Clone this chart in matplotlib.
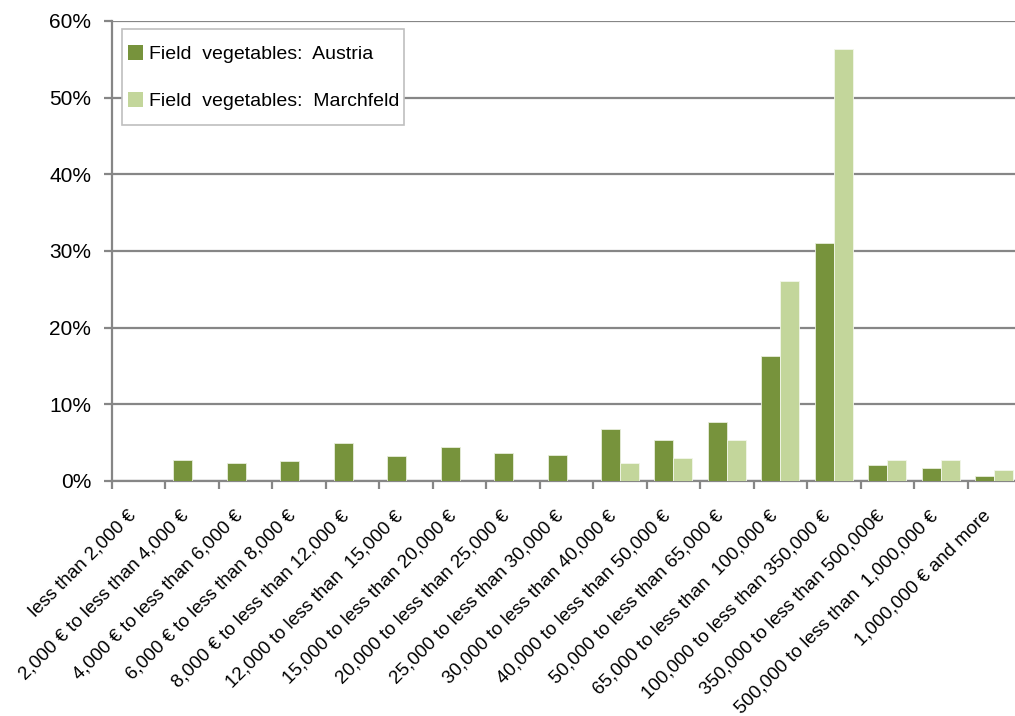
import matplotlib
matplotlib.use("Agg")
import matplotlib.pyplot as plt
import numpy as np
from matplotlib.patches import Rectangle
from matplotlib.ticker import FuncFormatter, FixedLocator

plt.rcParams['font.family'] = ['Liberation Sans', 'DejaVu Sans']

categories = [
    "less than 2,000 €",
    "2,000 € to less than 4,000 €",
    "4,000 € to less than 6,000 €",
    "6,000 € to less than 8,000 €",
    "8,000 € to less than 12,000 €",
    "12,000 to less than  15,000 €",
    "15,000 to less than 20,000 €",
    "20,000 to less than 25,000 €",
    "25,000 to less than 30,000 €",
    "30,000 to less than 40,000 €",
    "40,000 to less than 50,000 €",
    "50,000 to less than 65,000 €",
    "65,000 to less than  100,000 €",
    "100,000 to less than 350,000 €",
    "350,000 to less than 500,000€",
    "500,000 to less than  1,000,000 €",
    "1,000,000 € and more",
]

austria = [0.0, 2.8, 2.4, 2.6, 4.9, 3.2, 4.5, 3.6, 3.4, 6.8, 5.3, 7.7,
           16.3, 31.0, 2.1, 1.7, 0.6]
marchfeld = [0.0, 0.0, 0.0, 0.0, 0.0, 0.0, 0.0, 0.0, 0.0, 2.4, 3.0, 5.3,
             26.1, 56.4, 2.8, 2.8, 1.5]

y_ticks = [0, 10, 20, 30, 40, 50, 60]

W, H = 1015, 716
fig = plt.figure(figsize=(W / 100, H / 100), dpi=100)
ax = fig.add_axes([112 / W, 1 - 481 / H, (1021 - 112) / W, (481 - 21) / H])

x = np.arange(len(categories))
bw = 0.355
dark = "#77933C"
light = "#C3D69B"
ax.bar(x - bw / 2, austria, bw, color=dark, edgecolor="#E8EEDC", linewidth=0.6,
       label="Field  vegetables:  Austria", zorder=3)
ax.bar(x + bw / 2, marchfeld, bw, color=light, edgecolor="#F2F6EA", linewidth=0.6,
       label="Field  vegetables:  Marchfeld", zorder=3)

ax.set_xlim(-0.5, len(categories) - 0.5)
ax.set_ylim(0, 60)

grid_c = "#868686"
ax.set_yticks(y_ticks)
ax.yaxis.set_major_formatter(FuncFormatter(lambda v, p: f"{v:.0f}%"))
ax.grid(axis="y", color=grid_c, linewidth=1.6, zorder=0)
ax.set_axisbelow(True)

ax.set_xticks(x)
ax.set_xticklabels(categories, rotation=45, ha="right", rotation_mode="default",
                   fontsize=13.5)
ax.xaxis.set_minor_locator(FixedLocator(np.arange(-0.5, len(categories), 1.0)))
ax.tick_params(axis="x", which="major", length=0, pad=19)
ax.tick_params(axis="x", which="minor", length=6, width=1.6, color=grid_c,
               direction="out")
ax.tick_params(axis="y", length=6, width=1.6, color=grid_c, labelsize=15,
               pad=9)

for s in ("top", "right"):
    ax.spines[s].set_visible(False)
for s in ("left", "bottom"):
    ax.spines[s].set_color(grid_c)
    ax.spines[s].set_linewidth(1.6)

# legend box drawn separately so its padding can differ horizontally/vertically
ax.add_patch(Rectangle((122 / W, 1 - 125 / H), (404 - 122) / W, 96 / H,
                       transform=fig.transFigure, facecolor="white",
                       edgecolor="#BFBFBF", linewidth=1.2, zorder=4,
                       clip_on=False))
leg = ax.legend(loc="upper left", bbox_to_anchor=(128 / W, 1 - 45 / H),
                bbox_transform=fig.transFigure, fontsize=14, frameon=False,
                handlelength=0.78, handleheight=0.78, handletextpad=0.3,
                labelspacing=1.5, borderpad=0, borderaxespad=0)
leg.set_zorder(5)
for h in leg.legend_handles:
    h.set_edgecolor("none")

fig.savefig("out.png", dpi=100)
